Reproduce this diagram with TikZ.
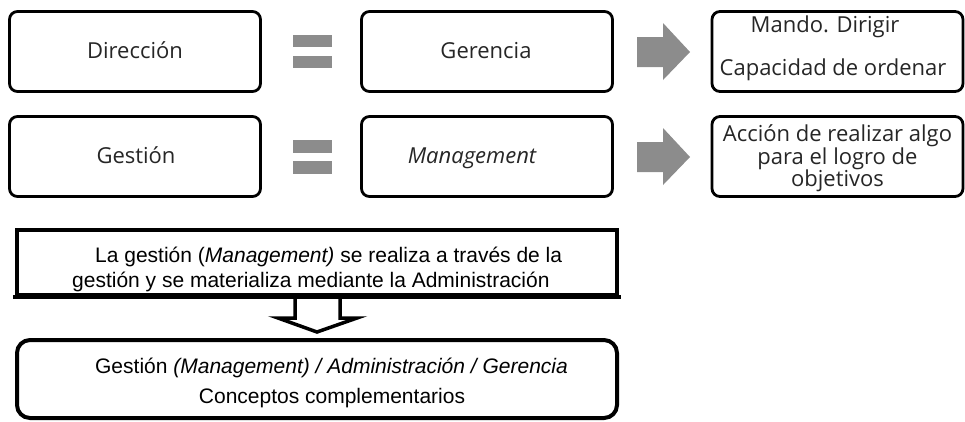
\documentclass[tikz,border=0pt]{standalone}
\usepackage{fontspec}
\usetikzlibrary{calc}
\newfontfamily\osans{Open Sans}
\newfontfamily\arialf{Liberation Sans}
\definecolor{bargray}{HTML}{8C8C8C}
\definecolor{txtgray}{HTML}{262626}
\begin{document}
\begin{tikzpicture}[x=1pt,y=-1pt,
  topbox/.style={draw=black, line width=2.8pt, rounded corners=8pt, inner sep=0pt, fill=white, minimum width=251pt, minimum height=80pt},
  toptext/.style={font=\osans\fontsize{22}{24}\selectfont, text=txtgray, inner sep=0pt, anchor=base},
  bottext/.style={font=\arialf\fontsize{21}{25}\selectfont, text=black, inner sep=0pt},
  eqbar/.style={fill=bargray, draw=none},
  blockarrow/.style={fill=bargray, draw=none}
]
\useasboundingbox (0,0) rectangle (965,421);

% row 1
\node[topbox] (dir) at (135,51.5) {};
\node[topbox] (ger) at (487,51.5) {};
\node[topbox] (mando) at (837.5,51.5) {};
\node[toptext] (tdir) at (135,58) {Dirección};
\node[toptext] (tger) at (486,58) {Gerencia};
\node[toptext] (tmando1) at (825,32) {Mando. Dirigir};
\node[toptext] (tmando2) at (833,75) {Capacidad de ordenar};

% row 2
\node[topbox] (ges) at (135,156.5) {};
\node[topbox] (man) at (487,156.5) {};
\node[topbox] (acc) at (837.5,156.5) {};
\node[toptext] (tges) at (136,163) {Gestión};
\node[toptext] (tman) at (472,163) {\itshape Management};
\node[toptext] (tacc1) at (837.5,141) {Acción de realizar algo};
\node[toptext] (tacc2) at (837.5,164) {para el logro de};
\node[toptext] (tacc3) at (837.5,186) {objetivos};

% equals signs
\fill[eqbar] (293,35) rectangle (332,47);
\fill[eqbar] (293,56) rectangle (332,68);
\fill[eqbar] (293,140) rectangle (332,153);
\fill[eqbar] (293,161) rectangle (332,174);

% block arrows
\fill[blockarrow] (637,37) -- (663,37) -- (663,23) -- (690,52) -- (663,80) -- (663,67) -- (637,67) -- cycle;
\fill[blockarrow] (637,142) -- (663,142) -- (663,128) -- (690,157) -- (663,185) -- (663,172) -- (637,172) -- cycle;

% bottom part
\node[draw=black, line width=4pt, inner sep=0pt, minimum width=600pt, minimum height=65pt, fill=white] (mid) at (317,262.5) {};
\node[draw=black, line width=4pt, inner sep=0pt, rounded corners=13pt, minimum width=600pt, minimum height=78pt, fill=white] (concl) at (317,379) {};

\draw[line width=3.5pt, fill=white, line join=miter]
  ($(mid.south)+(-22,-1)$) -- ($(mid.south)+(-22,21)$) -- ($(mid.south)+(-39,21)$)
  -- ($(concl.north)+(0,-6)$) -- ($(mid.south)+(40,21)$) -- ($(mid.south)+(23,21)$) -- ($(mid.south)+(23,-1)$);
\draw[line width=4pt] ($(mid.south west)+(-2,0)$) -- ($(mid.south east)+(2,0)$);

\node[bottext, anchor=base west] (l1) at (95,262) {La gestión (\textit{Management)} se realiza a través de la};
\node[bottext, anchor=base west] (l2) at (72,287) {gestión y se materializa mediante la Administración};
\node[bottext, anchor=base] (c1) at (331.5,373) {Gestión \textit{(Management) / Administración / Gerencia}};
\node[bottext, anchor=base] (c2) at (332,403) {Conceptos complementarios};
\end{tikzpicture}
\end{document}
